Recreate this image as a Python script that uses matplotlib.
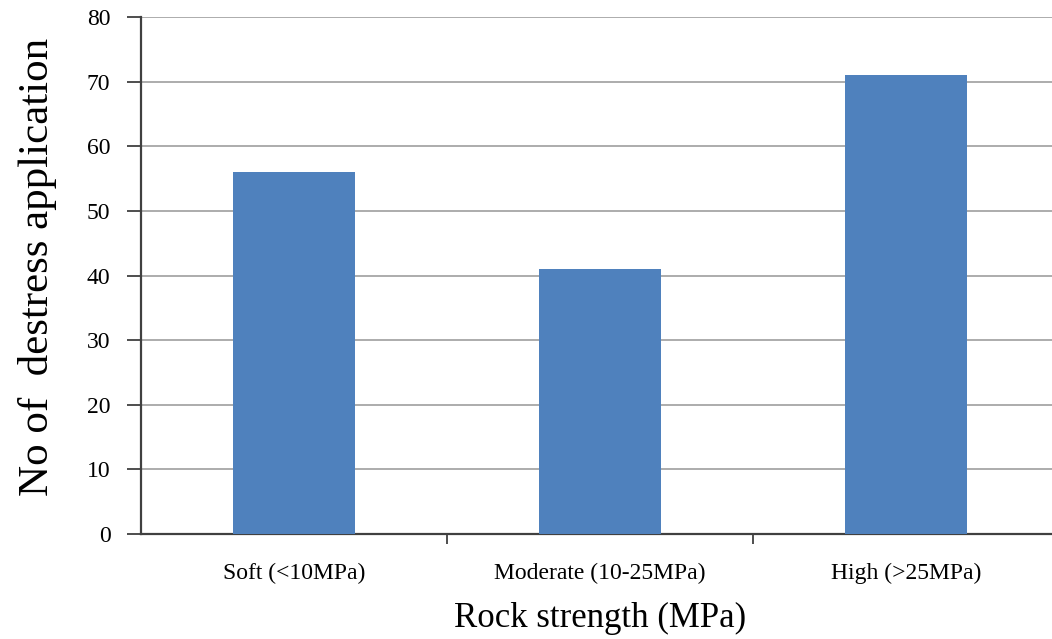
import matplotlib.pyplot as plt

categories = ["Soft (<10MPa)", "Moderate (10-25MPa)", "High (>25MPa)"]
counts = [56, 41, 71]
yticks = [0, 10, 20, 30, 40, 50, 60, 70, 80]

plt.rcParams["font.family"] = ["Liberation Serif", "DejaVu Serif"]

fig = plt.figure(figsize=(10.52, 6.39), dpi=100)
ax = fig.add_axes([141 / 1052, 1 - 534 / 639, 918 / 1052, 517 / 639])

x = list(range(len(categories)))
ax.bar(x, counts, width=0.4, color="#4f81bd", zorder=3)

ax.set_xlim(-0.5, 2.5)
ax.set_ylim(0, 80)
ax.set_yticks(yticks)
ax.set_yticklabels([str(v) for v in yticks], fontsize=17)
ax.yaxis.grid(True, color="#a6a6a6", linewidth=1.3, zorder=0)

# category labels sit between the boundary ticks
ax.set_xticks([0.5, 1.5])
ax.set_xticklabels([])
ax.set_xticks(x, minor=True)
ax.set_xticklabels(categories, minor=True, fontsize=17)
ax.tick_params(axis="x", which="minor", length=0, pad=21)
ax.tick_params(axis="x", which="major", length=7, width=1.3, color="#404040")
ax.tick_params(axis="y", length=10, width=1.3, color="#404040", pad=12)

for side in ["top", "right"]:
    ax.spines[side].set_visible(False)
for side in ["left", "bottom"]:
    ax.spines[side].set_color("#404040")
    ax.spines[side].set_linewidth(1.6)

ax.set_xlabel("Rock strength (MPa)", fontsize=25, labelpad=13)
ax.set_ylabel("No of  destress application", fontsize=31)
ax.yaxis.set_label_coords(-0.092, 0.517)

fig.savefig("out.png", dpi=100)
